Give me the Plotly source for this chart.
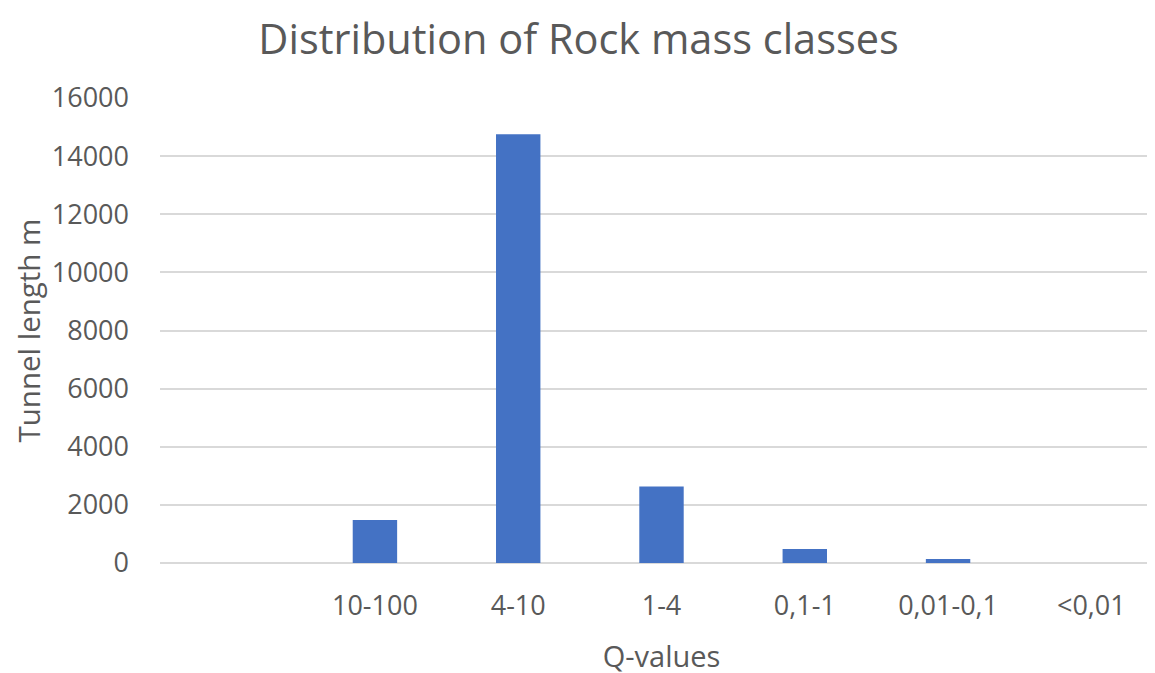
import plotly.graph_objects as go

categories = [" ", "10-100", "4-10", "1-4", "0,1-1", "0,01-0,1", "<0,01"]
tunnel_length = [0, 1480, 14750, 2630, 480, 140, 0]

font_family = "Open Sans, Segoe UI, sans-serif"
gray = "#595959"

fig = go.Figure(
    go.Bar(
        x=categories,
        y=tunnel_length,
        marker=dict(color="#4472C4", line=dict(width=0)),
        width=0.31,
    )
)

fig.update_layout(
    width=1155,
    height=673,
    margin=dict(l=152, r=0, t=90, b=118),
    paper_bgcolor="white",
    plot_bgcolor="white",
    showlegend=False,
    title=dict(
        text="Distribution of Rock mass classes",
        x=0.494,
        xref="container",
        xanchor="center",
        y=0.953,
        yref="container",
        yanchor="middle",
        font=dict(family=font_family, size=41.5, color=gray),
    ),
    font=dict(family=font_family, color=gray),
    annotations=[
        dict(
            text="Tunnel length m",
            textangle=-90,
            xref="paper",
            yref="paper",
            x=-0.1316,
            y=0.5,
            xanchor="center",
            yanchor="middle",
            showarrow=False,
            font=dict(family=font_family, size=29.5, color=gray),
        )
    ],
)

fig.update_xaxes(
    type="category",
    range=[-0.5, 6.5],
    showgrid=False,
    showline=False,
    ticks="",
    ticklabelstandoff=24,
    tickfont=dict(size=27, color=gray),
    title=dict(text="Q-values", font=dict(size=29, color=gray), standoff=24),
)

fig.update_yaxes(
    range=[0, 16000],
    dtick=2000,
    showgrid=True,
    gridcolor="#d9d9d9",
    gridwidth=2,
    zeroline=True,
    zerolinecolor="#d9d9d9",
    zerolinewidth=2,
    showline=False,
    ticks="",
    tickformat="d",
    ticklabelstandoff=30,
    tickfont=dict(size=27, color=gray),
)

fig.write_html("out.html")
